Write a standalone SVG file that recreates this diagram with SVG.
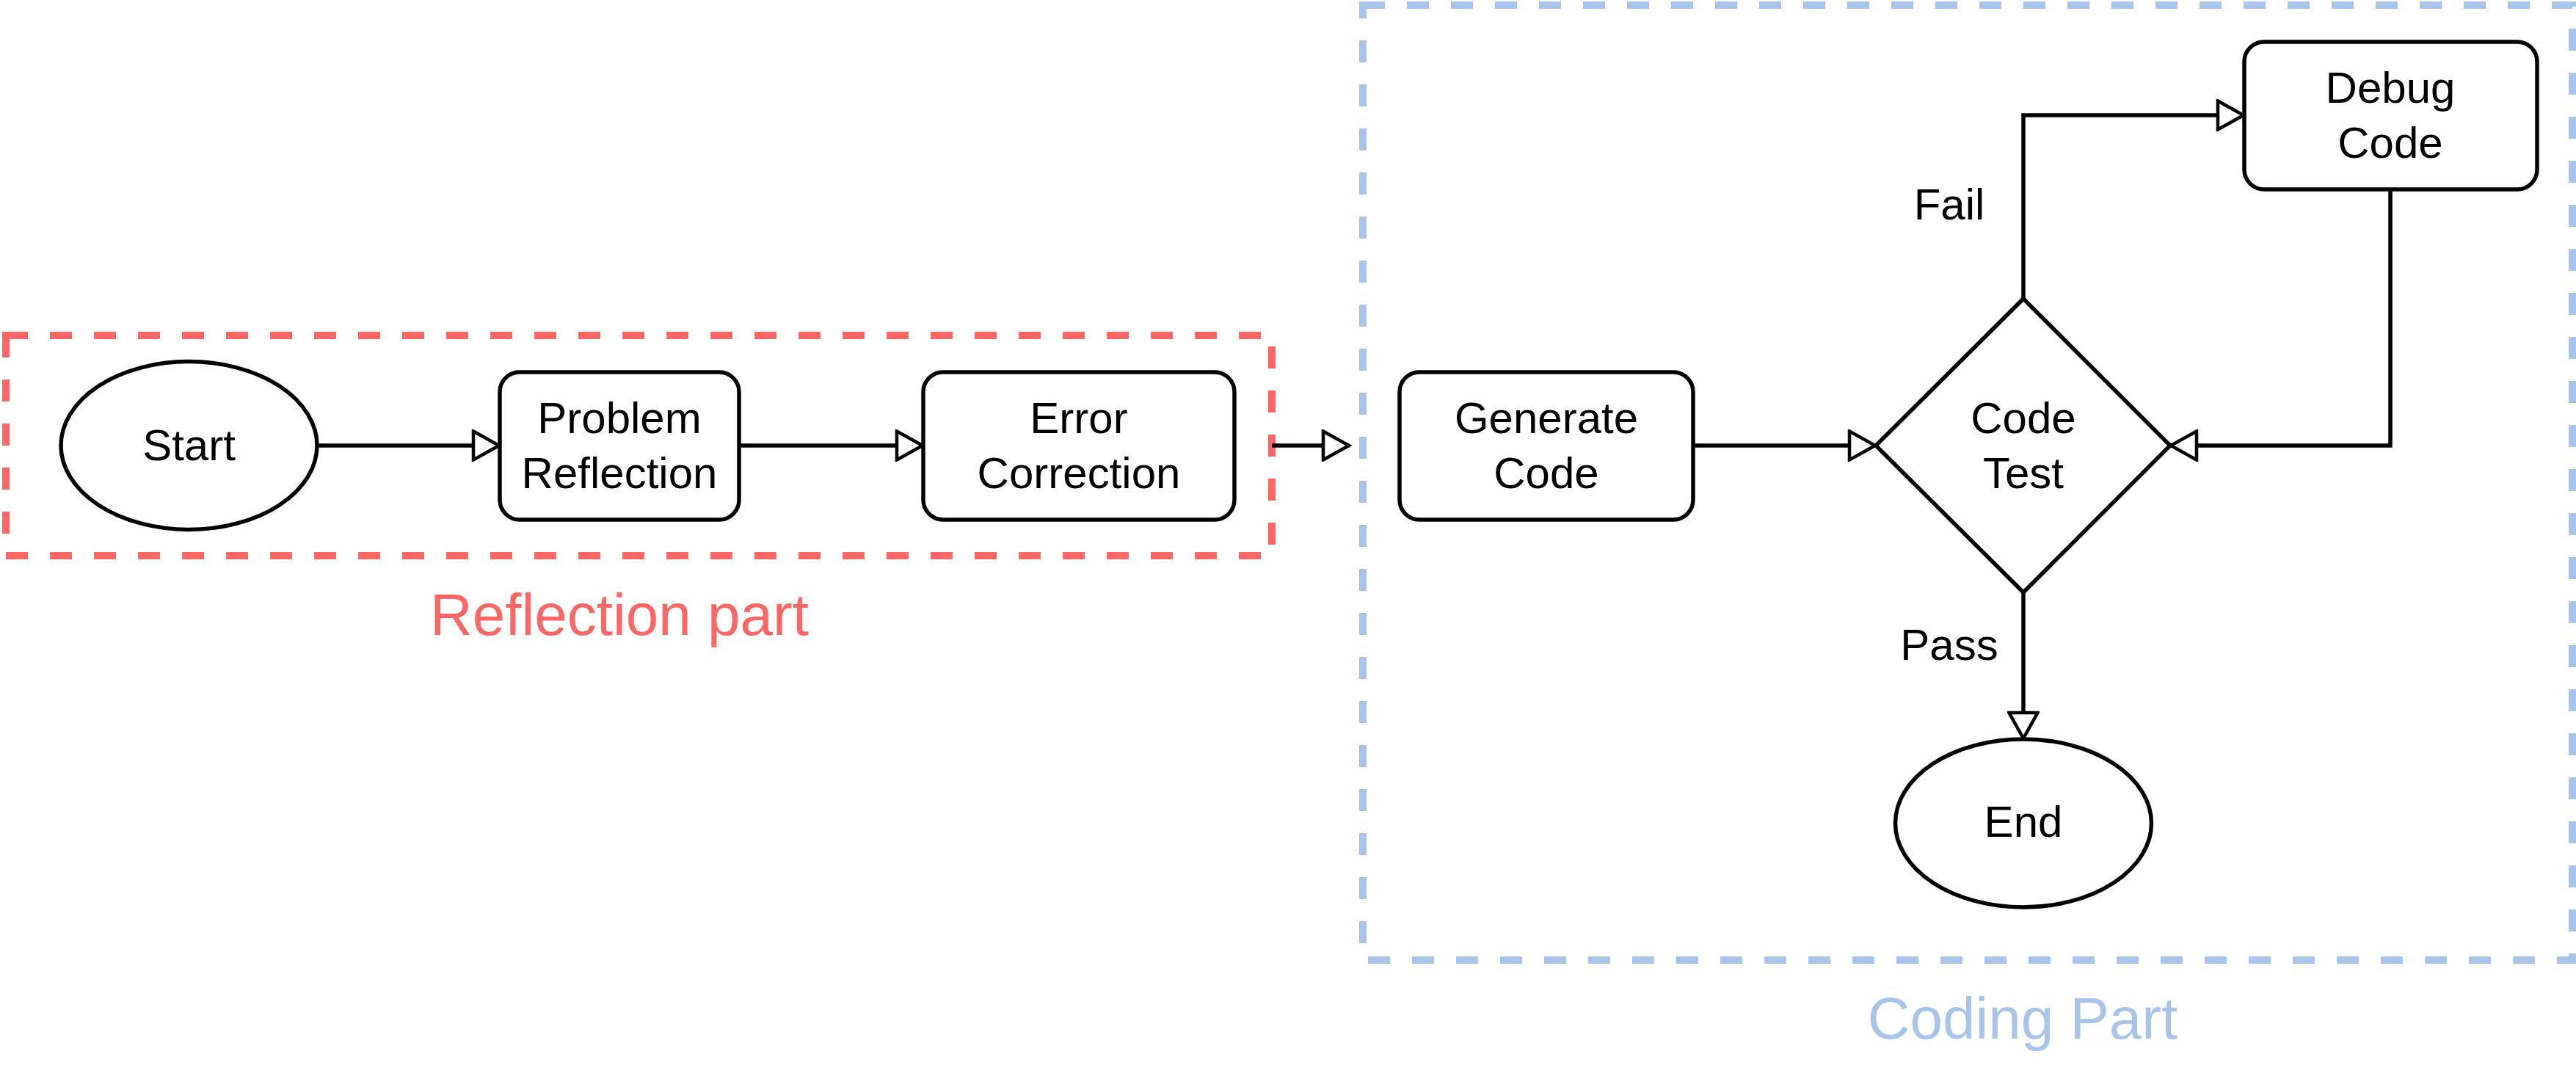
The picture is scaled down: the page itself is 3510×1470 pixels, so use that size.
<svg xmlns="http://www.w3.org/2000/svg" width="3510" height="1470" viewBox="0 0 3510 1470">
<style>
.bg{fill:#ffffff}
.node{fill:#ffffff;stroke:#000000;stroke-width:5.5}
.t{font-family:"Liberation Sans",Arial,Helvetica,sans-serif;font-size:60px;fill:#000000;text-anchor:middle}
.edge{fill:none;stroke:#000000;stroke-width:5.5;marker-end:url(#arr)}
.zone{fill:none;stroke-width:10;stroke-dasharray:30 30}
.red{stroke:#FF6666}
.blue{stroke:#A9C4EB}
.title{font-family:"Liberation Sans",Arial,Helvetica,sans-serif;font-size:80px;text-anchor:middle}
</style>
<defs>
<marker id="arr" markerUnits="userSpaceOnUse" viewBox="0 0 44 44" markerWidth="44" markerHeight="44" refX="40" refY="22" orient="auto">
<path d="M4,2.5 L39,22 L4,41.5 Z" fill="#ffffff" stroke="#000000" stroke-width="4.5"/>
</marker>
</defs>
<rect class="bg" x="0" y="0" width="3510" height="1470"/>
<g id="zones">
<g id="reflection-part">
<rect class="zone red" x="8" y="457" width="1725" height="300"/>
<text class="title" x="844" y="865" fill="#FF6666">Reflection part</text>
</g>
<g id="coding-part">
<rect class="zone blue" x="1857" y="7" width="1648" height="1301"/>
<text class="title" x="2756" y="1415" fill="#A9C4EB">Coding Part</text>
</g>
</g>
<g id="edges">
<path class="edge" d="M432,607 H681"/>
<path class="edge" d="M1007,607 H1258"/>
<path class="edge" d="M1733,607 H1839"/>
<path class="edge" d="M2307,607 H2556"/>
<path class="edge" d="M2757,407 V157 H3058"/>
<path class="edge" d="M3257,258 V607 H2957"/>
<path class="edge" d="M2757,807 V1007"/>
<text class="t" x="2656" y="299">Fail</text>
<text class="t" x="2656" y="899">Pass</text>
</g>
<g id="start">
<ellipse class="node" cx="257.5" cy="607" rx="174.5" ry="114.5"/>
<text class="t" x="257.5" y="627">Start</text>
</g>
<g id="problem-reflection">
<rect class="node" x="681" y="507" width="326" height="201" rx="27" ry="27"/>
<text class="t" x="844" y="590">Problem</text>
<text class="t" x="844" y="665">Reflection</text>
</g>
<g id="error-correction">
<rect class="node" x="1258" y="507" width="424" height="201" rx="27" ry="27"/>
<text class="t" x="1470" y="590">Error</text>
<text class="t" x="1470" y="665">Correction</text>
</g>
<g id="generate-code">
<rect class="node" x="1907" y="507" width="400" height="201" rx="27" ry="27"/>
<text class="t" x="2107" y="590">Generate</text>
<text class="t" x="2107" y="665">Code</text>
</g>
<g id="code-test">
<polygon class="node" points="2757,407 2957,607 2757,807 2556,607"/>
<text class="t" x="2757" y="590">Code</text>
<text class="t" x="2757" y="665">Test</text>
</g>
<g id="debug-code">
<rect class="node" x="3058" y="57" width="399" height="201" rx="27" ry="27"/>
<text class="t" x="3257" y="140">Debug</text>
<text class="t" x="3257" y="215">Code</text>
</g>
<g id="end">
<ellipse class="node" cx="2757" cy="1121.5" rx="174.5" ry="114.5"/>
<text class="t" x="2757" y="1140">End</text>
</g>
</svg>
